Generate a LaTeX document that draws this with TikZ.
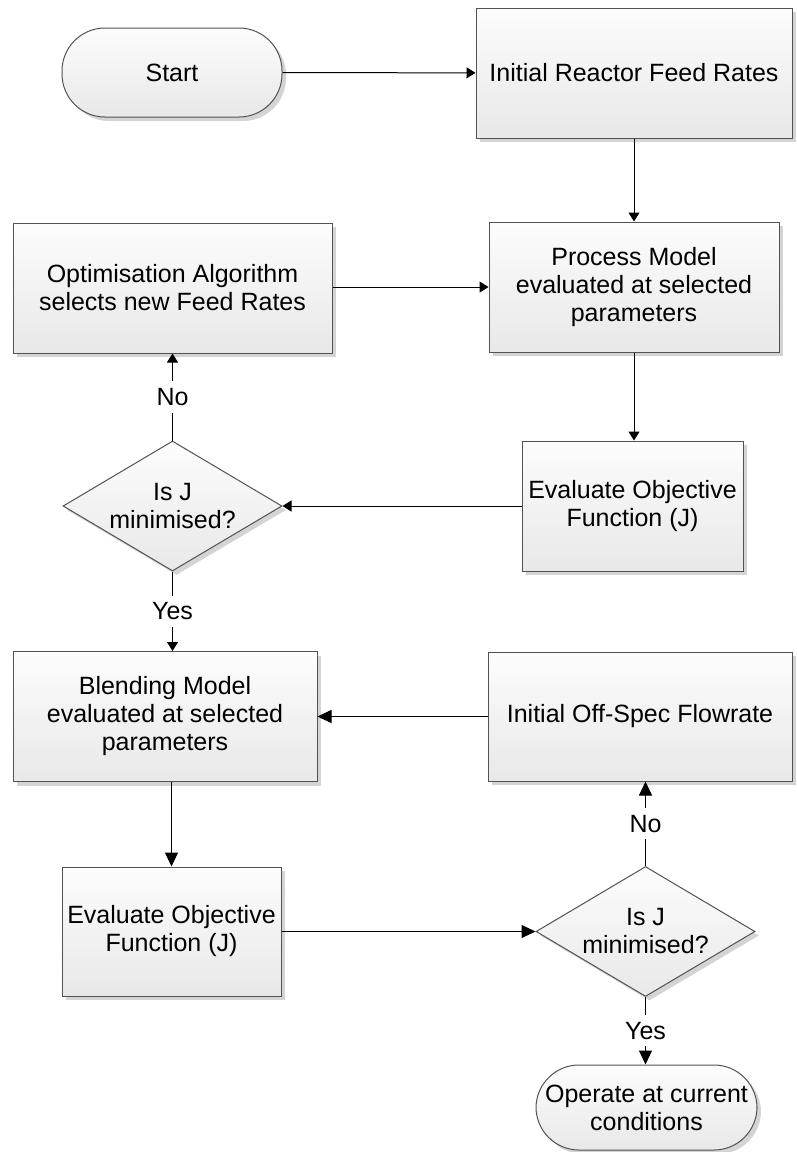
\documentclass[tikz,border=0pt]{standalone}
\usepackage{fontspec}
\setmainfont{Liberation Sans}
\usetikzlibrary{shapes.geometric,shadows,arrows.meta}
\begin{document}
\begin{tikzpicture}[x=1pt,y=-1pt,
  every node/.style={font=\fontsize{25}{28}\selectfont},
  shapebase/.style={draw=black!68, line width=1pt, top color=black!1, bottom color=black!9,
    drop shadow={shadow xshift=4pt, shadow yshift=-4pt, fill=black!17, opacity=1},
    align=center, inner sep=0pt},
  procbox/.style={shapebase, rectangle},
  terminal/.style={shapebase, rectangle, rounded corners=43pt},
  decision/.style={shapebase, diamond, shape aspect=1.68, minimum width=219pt, minimum height=130pt},
  flow/.style={draw=black, line width=1pt, -{Triangle[length=9pt,width=11pt]}},
  bigflow/.style={draw=black, line width=1pt, -{Triangle[length=14pt,width=13pt]}},
  tag/.style={fill=white, inner xsep=2pt, inner ysep=7pt},
]
\useasboundingbox (0,0) rectangle (796,1152);

% Reactor loop
\node[terminal, minimum width=220pt, minimum height=89pt] (start) at (172,72.5) {Start};
\node[procbox, minimum width=316pt, minimum height=130pt] (feed) at (634,73) {Initial Reactor Feed Rates};
\node[procbox, minimum width=290pt, minimum height=130pt] (pm) at (634,287) {Process Model\\evaluated at selected\\parameters};
\node[procbox, minimum width=319pt, minimum height=130pt] (opt) at (172.5,288) {Optimisation Algorithm\\selects new Feed Rates};
\node[procbox, minimum width=221pt, minimum height=130pt] (eo1) at (632.5,506) {Evaluate Objective\\Function (J)};
\node[decision] (d1) at (172.5,506) {Is J\\minimised?};

% Blending loop
\node[procbox, minimum width=304pt, minimum height=130pt] (blend) at (165,716.5) {Blending Model\\evaluated at selected\\parameters};
\node[procbox, minimum width=304pt, minimum height=129pt] (off) at (640,716.5) {Initial Off-Spec Flowrate};
\node[procbox, minimum width=219pt, minimum height=129pt] (eo2) at (171.5,931.5) {Evaluate Objective\\Function (J)};
\node[decision] (d2) at (645.5,931.5) {Is J\\minimised?};
\node[terminal, minimum width=221pt, minimum height=85pt] (oper) at (646.5,1107.5) {Operate at current\\conditions};

% Connectors
\draw[flow] (start) -- (feed);
\draw[flow] (feed.south -| pm.north) -- (pm.north);
\draw[flow] (opt.east |- pm.west) -- (pm.west);
\draw[flow] (pm.south) -- (pm.south |- eo1.north);
\draw[flow] (eo1) -- (d1);
\draw[flow] (d1.north) -- node[tag] {No} (d1.north |- opt.south);
\draw[flow] (d1.south) -- node[tag] {Yes} (d1.south |- blend.north);
\draw[bigflow] (off) -- (blend);
\draw[bigflow] (eo2.north |- blend.south) -- (eo2.north);
\draw[bigflow] (eo2) -- (d2);
\draw[bigflow] (d2.north) -- node[tag] {No} (d2.north |- off.south);
\draw[bigflow] (d2.south) -- node[tag] {Yes} (d2.south |- oper.north);
\end{tikzpicture}
\end{document}
